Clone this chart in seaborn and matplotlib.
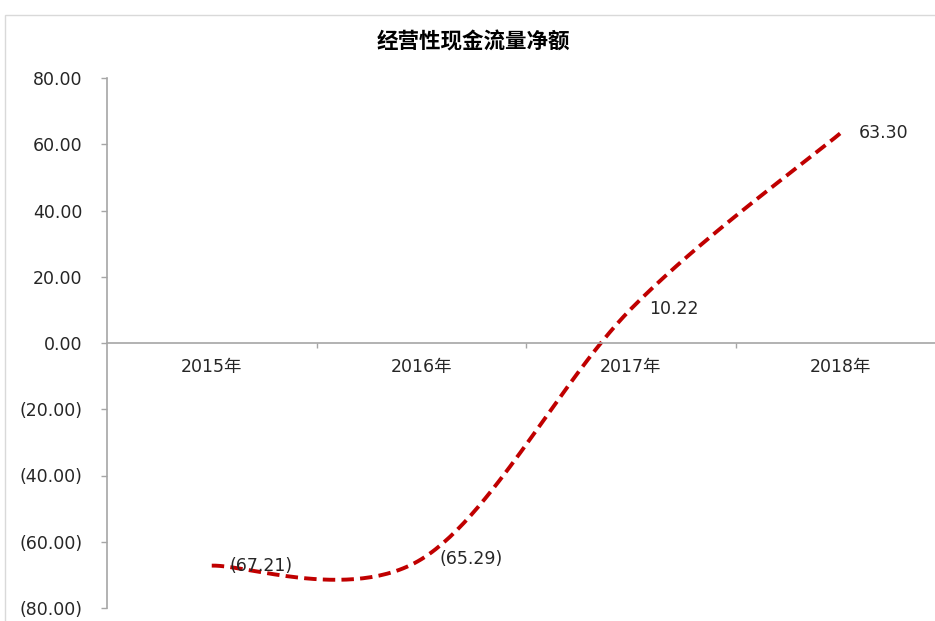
import numpy as np
import pandas as pd
import matplotlib
matplotlib.use("Agg")
import matplotlib.pyplot as plt
import seaborn as sns
from matplotlib.patches import Rectangle
from matplotlib.ticker import FuncFormatter, FixedLocator

categories = ["2015年", "2016年", "2017年", "2018年"]
values = [-67.21, -65.29, 10.22, 63.30]
title = "经营性现金流量净额"
y_ticks = [-80, -60, -40, -20, 0, 20, 40, 60, 80]

sns.set_theme(style="white")
plt.rcParams['font.family'] = ['DejaVu Sans', 'Noto Sans CJK SC']
plt.rcParams['axes.unicode_minus'] = False

W, H = 935, 621
fig = plt.figure(figsize=(W / 100, H / 100), dpi=100)
fig.patch.set_facecolor("white")

# outer chart border (light gray), partially cropped
fig.patches.append(Rectangle((5 / W, -0.1), 1.2, 1.1 - 15 / H,
                             transform=fig.transFigure, fill=False,
                             edgecolor="#D9D9D9", linewidth=1.0))

left, right = 107 / W, 945 / W
top, bottom = 1 - 78 / H, 1 - 608 / H
ax = fig.add_axes([left, bottom, right - left, top - bottom])
ax.set_facecolor("none")

x = np.arange(len(values), dtype=float)
y = np.array(values, dtype=float)

# Excel-style smoothed curve (cubic Bezier through the points)
xs, ys = [], []
n = len(x)
t = np.linspace(0, 1, 60)
for i in range(n - 1):
    p0 = np.array([x[i], y[i]])
    p3 = np.array([x[i + 1], y[i + 1]])
    pm = np.array([x[i - 1], y[i - 1]]) if i > 0 else p0
    pp = np.array([x[i + 2], y[i + 2]]) if i + 2 < n else p3
    c1 = p0 + (p3 - pm) / 6
    c2 = p3 - (pp - p0) / 6
    pts = ((1 - t) ** 3)[:, None] * p0 + (3 * (1 - t) ** 2 * t)[:, None] * c1 \
        + (3 * (1 - t) * t ** 2)[:, None] * c2 + (t ** 3)[:, None] * p3
    if i > 0:
        pts = pts[1:]
    xs.extend(pts[:, 0])
    ys.extend(pts[:, 1])

curve = pd.DataFrame({"x": xs, "y": ys})
sns.lineplot(data=curve, x="x", y="y", sort=False, estimator=None, ax=ax,
             color="#C00000", linewidth=2.8)
ax.lines[-1].set_dashes((3.2, 1.6))
ax.lines[-1].set_dash_capstyle("butt")

# data labels
def fmt(v):
    return f"({abs(v):.2f})" if v < 0 else f"{v:.2f}"

for xi, yi in zip(x, y):
    ax.annotate(fmt(yi), (xi, yi), xytext=(13, 0), textcoords="offset points",
                ha="left", va="center", fontsize=12.5, color="#262626")

ax.set_xlim(-0.5, 3.5)
ax.set_ylim(-80, 80)
ax.set_xlabel("")
ax.set_ylabel("")

ax.yaxis.set_major_locator(FixedLocator(y_ticks))
ax.yaxis.set_major_formatter(FuncFormatter(lambda v, p: fmt(v) if v != 0 else "0.00"))

ax.set_xticks(x)
ax.set_xticklabels(categories)
ax.set_xticks([0.5, 1.5, 2.5], minor=True)

for s in ["top", "right"]:
    ax.spines[s].set_visible(False)
ax.spines["bottom"].set_position(("data", 0))
for s in ["left", "bottom"]:
    ax.spines[s].set_color("#A6A6A6")
    ax.spines[s].set_linewidth(1.2)

ax.tick_params(axis="y", which="major", direction="out", length=4.5, width=1.0,
               color="#A6A6A6", pad=13, labelsize=12.5, labelcolor="#262626", left=True)
ax.tick_params(axis="x", which="major", length=0, pad=11, labelsize=12.5,
               labelcolor="#262626", bottom=True)
ax.tick_params(axis="x", which="minor", direction="out", length=3.5, width=1.0,
               color="#A6A6A6", bottom=True)

fig.text(473 / W, 1 - 42 / H, title, ha="center", va="center", fontsize=15.5,
         fontweight="bold", family=["Noto Sans CJK SC"], color="#000000")

fig.savefig("out.png", dpi=100, facecolor="white")
